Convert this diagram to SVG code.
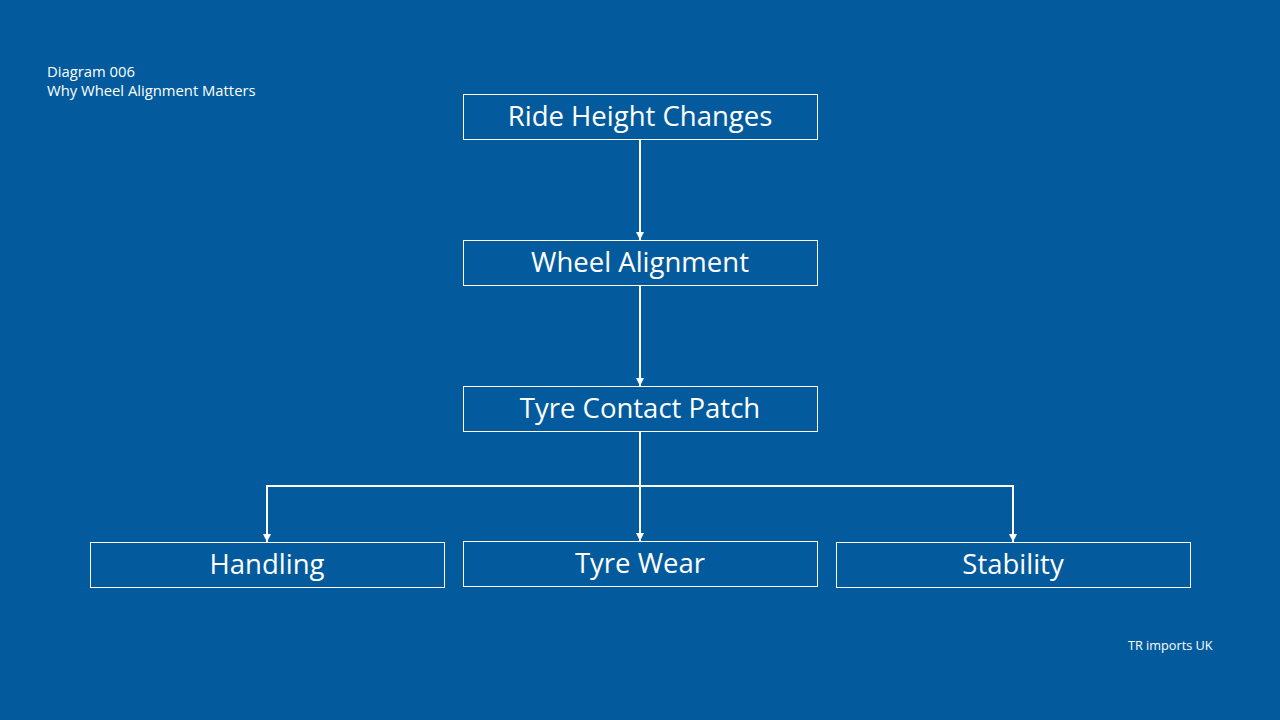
<svg xmlns="http://www.w3.org/2000/svg" width="1280" height="720" viewBox="0 0 1280 720">
<defs>
<style>
.box{fill:none;stroke:#ffffff;stroke-width:1}
.lbl{fill:#ffffff;font-family:"Open Sans","Liberation Sans",sans-serif;font-size:27.5px;text-anchor:middle;dominant-baseline:central}
.small{fill:#ffffff;font-family:"Open Sans","Liberation Sans",sans-serif;font-size:14.8px}
.con{fill:none;stroke:#ffffff;stroke-width:2}
</style>
<marker id="arr" viewBox="0 0 10 10" refX="10" refY="5" markerWidth="4" markerHeight="4" orient="auto" markerUnits="strokeWidth">
<path d="M0,0 L10,5 L0,10 z" fill="#ffffff"/>
</marker>
</defs>
<rect width="1280" height="720" fill="#035B9E"/>
<text class="small" x="47" y="77">Diagram 006</text>
<text class="small" x="47" y="96">Why Wheel Alignment Matters</text>
<text class="small" x="1128" y="650" style="font-size:12.7px">TR imports UK</text>
<g id="connectors">
<path class="con" d="M640,139 V240" marker-end="url(#arr)"/>
<path class="con" d="M640,285 V386" marker-end="url(#arr)"/>
<path class="con" d="M640,431 V541" marker-end="url(#arr)"/>
<path class="con" d="M640,486 H267 V542" marker-end="url(#arr)"/>
<path class="con" d="M640,486 H1013 V542" marker-end="url(#arr)"/>
</g>
<g id="n1"><rect class="box" x="463.5" y="94.5" width="354" height="45"/><text class="lbl" x="640" y="115.5">Ride Height Changes</text></g>
<g id="n2"><rect class="box" x="463.5" y="240.5" width="354" height="45"/><text class="lbl" x="640" y="261.5">Wheel Alignment</text></g>
<g id="n3"><rect class="box" x="463.5" y="386.5" width="354" height="45"/><text class="lbl" x="640" y="407.5">Tyre Contact Patch</text></g>
<g id="n4"><rect class="box" x="90.5" y="542.5" width="354" height="45"/><text class="lbl" x="267" y="563.5">Handling</text></g>
<g id="n5"><rect class="box" x="463.5" y="541.5" width="354" height="45"/><text class="lbl" x="640" y="562.5">Tyre Wear</text></g>
<g id="n6"><rect class="box" x="836.5" y="542.5" width="354" height="45"/><text class="lbl" x="1013" y="563.5">Stability</text></g>
</svg>
